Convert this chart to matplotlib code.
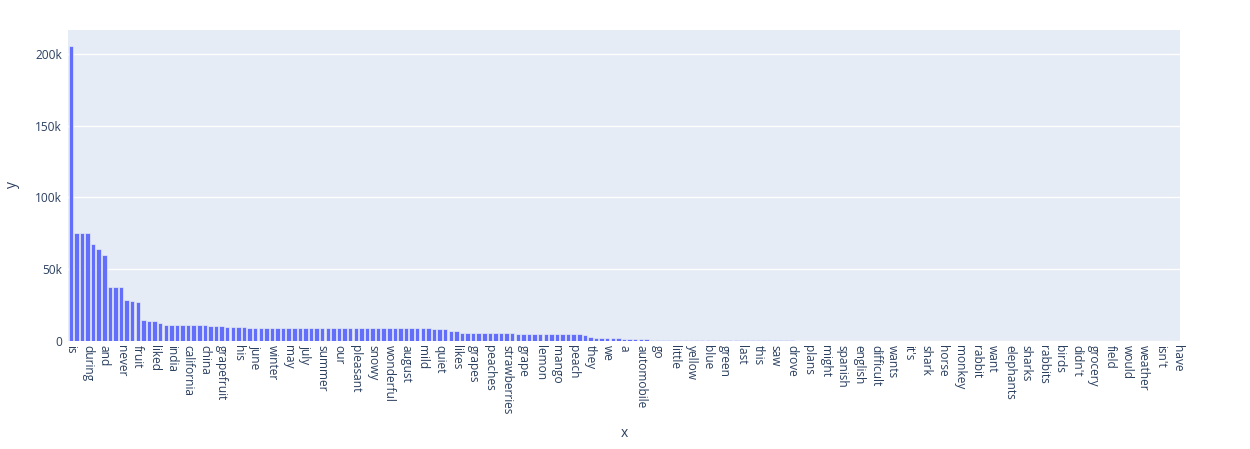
import matplotlib
matplotlib.use("Agg")
import matplotlib.pyplot as plt
from matplotlib.ticker import FuncFormatter, MultipleLocator

words = [
    "is", "in", "it", "during", "the", "but", "and", "sometimes", "usually", "never",
    "favorite", "least", "fruit", "most", "loved", "liked", "new", "paris", "india", "united",
    "states", "california", "jersey", "france", "china", "he", "she", "grapefruit", "your", "my",
    "his", "her", "fall", "june", "spring", "january", "winter", "march", "autumn", "may",
    "nice", "september", "july", "april", "november", "summer", "december", "february", "our", "their",
    "freezing", "pleasant", "beautiful", "october", "snowy", "warm", "cold", "wonderful", "dry", "busy",
    "august", "chilly", "rainy", "mild", "wet", "relaxing", "quiet", "hot", "dislikes", "likes",
    "limes", "lemons", "grapes", "mangoes", "apples", "peaches", "oranges", "pears", "strawberries", "bananas",
    "to", "grape", "apple", "orange", "lemon", "lime", "banana", "mango", "pear", "strawberry",
    "peach", "like", "dislike", "they", "that", "i", "we", "you", "animal", "a",
    "truck", "car", "automobile", "was", "next", "go", "driving", "visit", "little", "big",
    "old", "yellow", "red", "rusty", "blue", "white", "black", "green", "shiny", "are",
    "last", "feared", "animals", "this", "plan", "going", "saw", "disliked", "drives", "drove",
    "between", "translate", "plans", "were", "went", "might", "wanted", "thinks", "spanish", "portuguese",
    "chinese", "english", "french", "translating", "difficult", "fun", "easy", "wants", "think", "why",
    "it's", "did", "has", "shark", "orchard", "lion", "horse", "bird", "dog", "monkey",
    "cat", "bear", "rabbit", "mouse", "snake", "want", "lions", "bears", "elephants", "horses",
    "dogs", "sharks", "snakes", "cats", "rabbits", "mice", "monkeys", "birds", "elephant", "store",
    "didn't", "school", "football", "grocery", "lake", "pool", "field", "tower", "eiffel", "would",
    "how", "when", "weather", "where", "does", "isn't", "aren't", "am", "have",
]

counts = [
    205858, 75525, 75137, 74933, 67628, 63987, 59850, 37746, 37507, 37500,
    28332, 27564, 27192, 14934, 14166, 14046, 12197, 11334, 11277, 11270,
    11270, 11250, 11225, 11170, 10953, 10786, 10786, 10692, 9734, 9700,
    9700, 9700, 9134, 9133, 9102, 9090, 9038, 9023, 9004, 8995,
    8984, 8958, 8956, 8954, 8951, 8948, 8945, 8942, 8932, 8932,
    8928, 8916, 8915, 8910, 8898, 8890, 8878, 8808, 8794, 8791,
    8789, 8770, 8761, 8743, 8736, 8696, 8693, 8639, 7314, 7314,
    5844, 5844, 5844, 5844, 5844, 5844, 5844, 5844, 5844, 5844,
    5166, 4848, 4848, 4848, 4848, 4848, 4848, 4848, 4848, 4848,
    4848, 4588, 4444, 2650, 2200, 2100, 1900, 1850, 1800, 1300,
    1300, 1300, 1300, 1200, 950, 950, 800, 750, 650, 650,
    560, 560, 560, 560, 560, 560, 560, 560, 560, 500,
    450, 420, 420, 420, 400, 380, 360, 360, 360, 360,
    300, 270, 260, 220, 210, 210, 210, 200, 180, 180,
    180, 180, 180, 170, 150, 150, 150, 140, 130, 130,
    130, 110, 100, 90, 85, 80, 75, 70, 66, 62,
    58, 55, 52, 50, 48, 45, 30, 28, 26, 24,
    22, 20, 18, 16, 15, 14, 13, 12, 11, 10,
    9, 8, 8, 7, 7, 6, 6, 5, 5, 4,
    4, 4, 3, 3, 3, 2, 2, 2, 1,
]

plt.rcParams["font.family"] = ["Open Sans", "DejaVu Sans"]
text_col = "#2a3f5f"

fig = plt.figure(figsize=(12.5, 4.49), dpi=100)
ax = fig.add_axes([68 / 1250, 108 / 449, 1112 / 1250, 311 / 449])
ax.set_facecolor("#E5ECF6")

pos = list(range(len(words)))
ax.bar(pos, counts, width=0.8, color="#636efa", edgecolor="#E5ECF6", linewidth=0.5, zorder=3)

ax.set_xlim(-0.5, len(words) - 0.5)
ax.set_ylim(0, max(counts) * 1.0525)

ax.yaxis.set_major_locator(MultipleLocator(50000))
ax.yaxis.set_major_formatter(FuncFormatter(lambda v, p: "0" if v == 0 else f"{int(v / 1000)}k"))
ax.grid(axis="y", color="white", linewidth=1, zorder=0)
ax.set_axisbelow(True)

ax.set_xticks(pos[::3])
ax.set_xticklabels(words[::3], rotation=-90, va="top", ha="center")

for s in ax.spines.values():
    s.set_visible(False)
ax.tick_params(axis="both", length=0, labelsize=8.6, labelcolor=text_col)
ax.tick_params(axis="y", pad=4.5)
ax.tick_params(axis="x", pad=3)

ax.set_xlabel("x", fontsize=10, color=text_col)
ax.set_ylabel("y", fontsize=10, color=text_col)
ax.xaxis.set_label_coords((624 - 68) / 1112, -(426 - 341) / 311)
ax.yaxis.set_label_coords(-(68 - 20) / 1112, (341 - 185) / 311)

fig.savefig("out.png", dpi=100)
